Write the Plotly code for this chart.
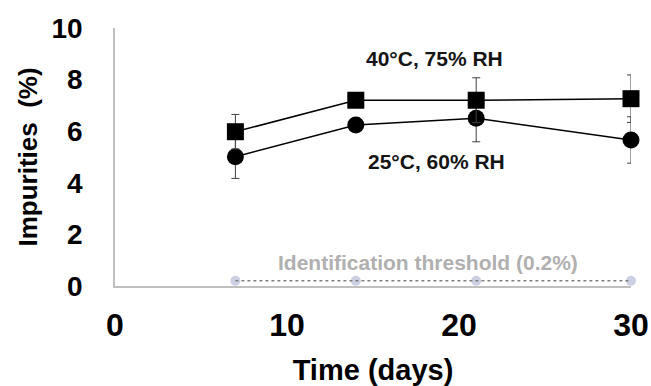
import plotly.graph_objects as go

days = [7, 14, 21, 30]
rh75_values = [5.98, 7.2, 7.2, 7.26]
rh75_err = [0.67, 0.25, 0.87, 0.92]
rh60_values = [5.01, 6.24, 6.5, 5.66]
rh60_err = [0.84, 0.25, 0.91, 0.9]
threshold = [0.2, 0.2, 0.2, 0.2]
x_ticks = [0, 10, 20, 30]
y_ticks = [0, 2, 4, 6, 8, 10]

fig = go.Figure()

fig.add_trace(go.Scatter(
    x=days, y=threshold, mode="markers",
    marker=dict(symbol="circle", size=10, color="#cdd0e3"),
    showlegend=False, hoverinfo="skip"))
fig.add_trace(go.Scatter(
    x=days, y=threshold, mode="lines",
    line=dict(color="#808080", width=1.5, dash="dot"),
    showlegend=False))

for vals, err, sym in [(rh60_values, rh60_err, "circle"), (rh75_values, rh75_err, "square")]:
    fig.add_trace(go.Scatter(
        x=days, y=vals, mode="lines+markers",
        line=dict(color="black", width=1.5),
        marker=dict(symbol=sym, size=17, color="black"),
        error_y=dict(type="data", array=err, visible=True, color="#404040", thickness=1, width=4),
        showlegend=False))

font_fam = "Liberation Sans, Arial, sans-serif"
fig.add_annotation(x=18.6, y=8.8, text="40°C, 75% RH", showarrow=False,
                   font=dict(family=font_fam, size=21, color="#151515", weight="bold"))
fig.add_annotation(x=18.7, y=4.83, text="25°C, 60% RH", showarrow=False,
                   font=dict(family=font_fam, size=21, color="#151515", weight="bold"))
fig.add_annotation(x=18.2, y=0.91, text="Identification threshold (0.2%)", showarrow=False,
                   font=dict(family=font_fam, size=21, color="#b0b0b0", weight="bold"))

fig.update_layout(
    width=651, height=386,
    margin=dict(l=115, r=20, t=28, b=100),
    paper_bgcolor="white", plot_bgcolor="white",
    font=dict(family=font_fam, color="black"),
    xaxis=dict(range=[0, 30], tickvals=x_ticks, showgrid=False, zeroline=False,
               showline=True, linecolor="#bfbfbf", linewidth=1.5, ticks="",
               automargin=False, ticklabelstandoff=10,
               tickfont=dict(size=32, weight="bold"),
               title=dict(text="Time (days)", font=dict(size=29, weight="bold"), standoff=22)),
    yaxis=dict(range=[0, 10], tickvals=y_ticks, showgrid=False, zeroline=False,
               showline=True, linecolor="#bfbfbf", linewidth=1.5, ticks="",
               automargin=False, ticklabelstandoff=25,
               tickfont=dict(size=28, weight="bold"),
               title=dict(text="Impurities  (%)", font=dict(size=26, weight="bold"), standoff=6)),
)
fig.update_traces(cliponaxis=False)

fig.write_html("out.html")
